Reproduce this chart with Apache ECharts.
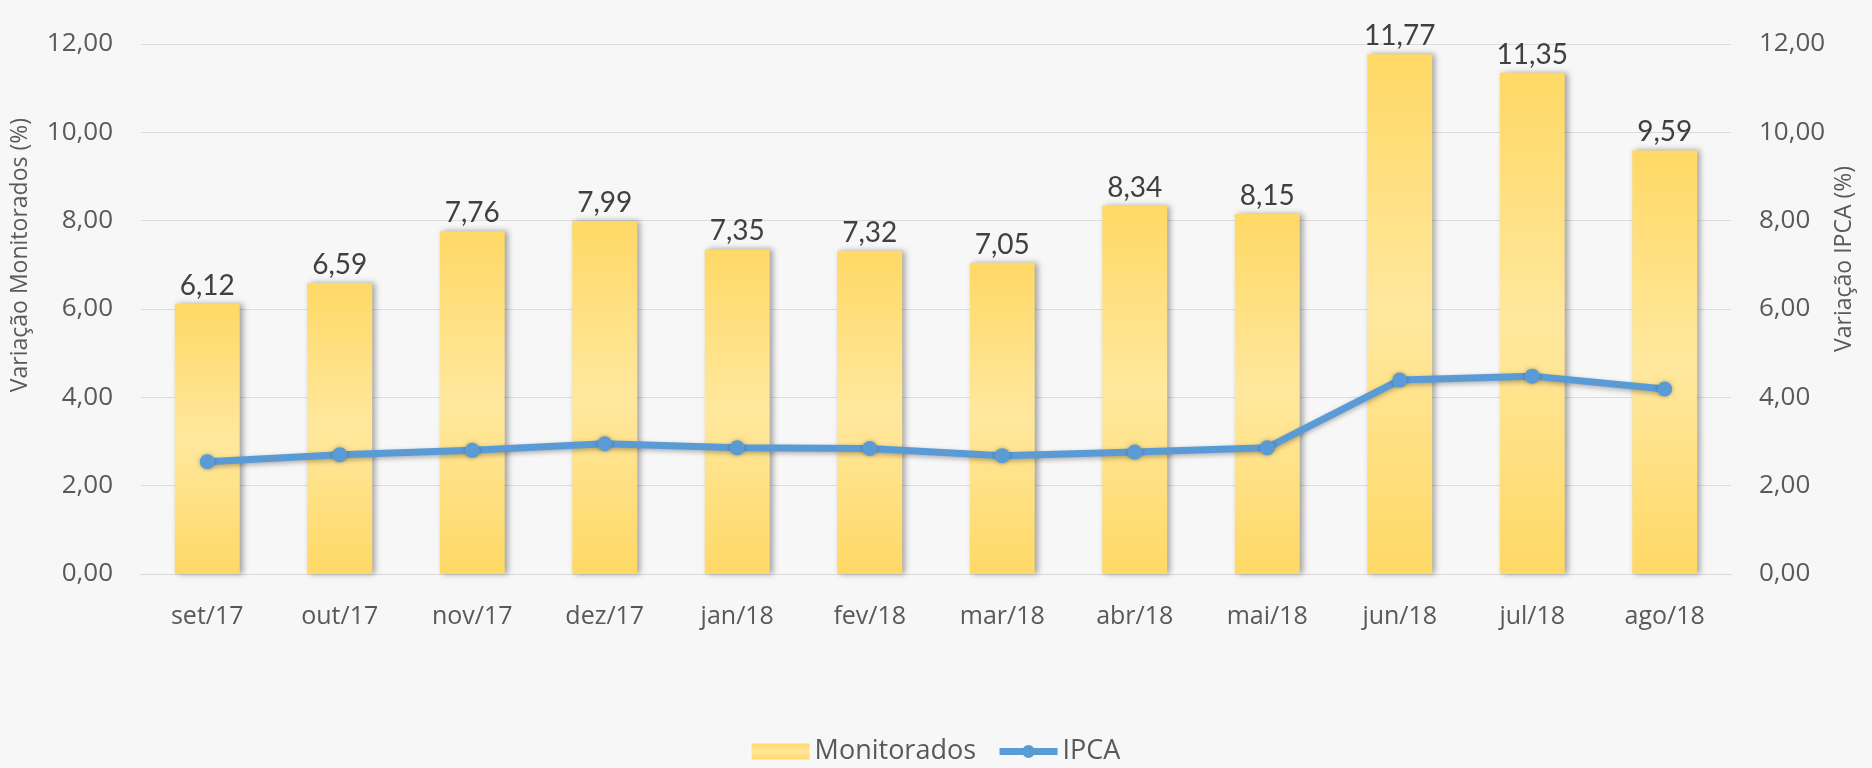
<!DOCTYPE html>
<html>
<head>
<meta charset="utf-8">
<script src="https://cdn.jsdelivr.net/npm/echarts@6/dist/echarts.min.js"></script>
<style>
  html, body { margin: 0; padding: 0; background: #f7f7f7; }
  #main { width: 1872px; height: 768px; }
</style>
</head>
<body>
<div id="main"></div>
<script>
// dados
let meses = ['set/17', 'out/17', 'nov/17', 'dez/17', 'jan/18', 'fev/18', 'mar/18', 'abr/18', 'mai/18', 'jun/18', 'jul/18', 'ago/18']
let monitorados = [6.12, 6.59, 7.76, 7.99, 7.35, 7.32, 7.05, 8.34, 8.15, 11.77, 11.35, 9.59]
let ipca = [2.54, 2.70, 2.80, 2.95, 2.86, 2.84, 2.68, 2.76, 2.86, 4.39, 4.48, 4.19]

let fonte = '"Open Sans", "Noto Sans", sans-serif'
let virgula = v => v.toFixed(2).replace('.', ',')

let ele = echarts.init(document.getElementById('main'))
const option = {
    backgroundColor: '#f7f7f7',
    animation: false,
    grid: { left: 141, right: 141, top: 44, bottom: 194 },
    legend: {
        bottom: -2,
        left: 'center',
        itemWidth: 58,
        itemHeight: 16,
        itemGap: 20,
        textStyle: { color: '#595959', fontSize: 27, fontFamily: fonte },
        data: [
            { name: 'Monitorados', icon: 'rect' },
            { name: 'IPCA', lineStyle: { width: 7 } }
        ]
    },
    graphic: [
        {
            type: 'text', left: 9, top: 118, rotation: Math.PI / 2,
            style: { text: 'Variação Monitorados (%)', fill: '#595959', font: '23px ' + fonte }
        },
        {
            type: 'text', right: 16, top: 166, rotation: Math.PI / 2,
            style: { text: 'Variação IPCA (%)', fill: '#595959', font: '23px ' + fonte }
        }
    ],
    xAxis: {
        type: 'category',
        data: meses,
        axisTick: { show: false },
        axisLine: { lineStyle: { color: '#d9d9d9' } },
        axisLabel: { color: '#595959', fontSize: 25, fontFamily: fonte, margin: 30 }
    },
    yAxis: [
        {
            type: 'value', min: 0, max: 12, interval: 2,
            axisLabel: { color: '#595959', fontSize: 26, fontFamily: fonte, margin: 28, formatter: virgula },
            splitLine: { lineStyle: { color: '#dcdcdc' } }
        },
        {
            type: 'value', min: 0, max: 12, interval: 2,
            axisLabel: { color: '#595959', fontSize: 26, fontFamily: fonte, margin: 28, formatter: virgula },
            splitLine: { show: false }
        }
    ],
    series: [
        {
            name: 'Monitorados',
            type: 'bar',
            data: monitorados,
            barWidth: '49%',
            itemStyle: {
                color: new echarts.graphic.LinearGradient(0, 0, 0, 1, [
                    { offset: 0, color: '#ffd966' },
                    { offset: 0.5, color: '#ffe89e' },
                    { offset: 1, color: '#ffd966' }
                ]),
                shadowColor: 'rgba(0,0,0,0.35)',
                shadowBlur: 6,
                shadowOffsetX: 3
            },
            label: {
                show: true,
                position: 'top',
                distance: 4,
                color: '#404040',
                fontSize: 28,
                fontFamily: 'Lato, sans-serif',
                formatter: p => virgula(p.value)
            }
        },
        {
            name: 'IPCA',
            type: 'line',
            yAxisIndex: 1,
            data: ipca,
            symbol: 'circle',
            symbolSize: 15,
            color: '#5b9bd5',
            lineStyle: { width: 7, shadowColor: 'rgba(0,0,0,0.3)', shadowBlur: 5, shadowOffsetY: 2 },
            itemStyle: { color: '#5b9bd5', shadowColor: 'rgba(0,0,0,0.3)', shadowBlur: 4 }
        }
    ]
}
ele.setOption(option)
</script>
</body>
</html>
